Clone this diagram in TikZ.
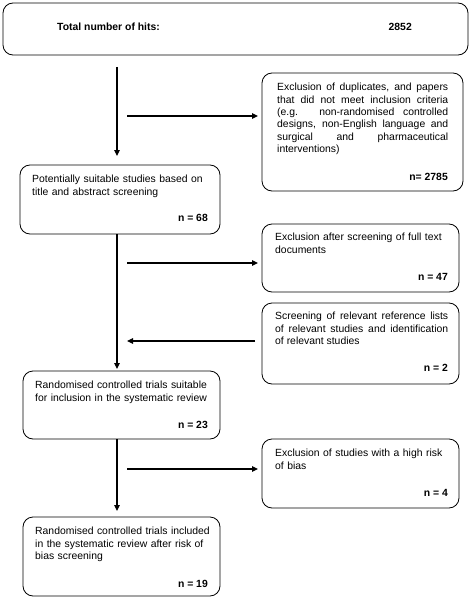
\documentclass[tikz,border=0pt]{standalone}
\usepackage{fontspec}
\setmainfont{Liberation Sans}
\usetikzlibrary{arrows.meta}
\begin{document}
\begin{tikzpicture}[x=1pt,y=-1pt,
  box/.style={draw, line width=0.8pt, rounded corners=10pt, inner sep=0pt, outer sep=0pt, anchor=north west},
  txt/.style={inner sep=0pt, anchor=north west, font=\fontsize{10.4}{12.4}\selectfont},
  num/.style={inner sep=0pt, anchor=east, font=\fontsize{10.4}{12.4}\selectfont\bfseries},
  arr/.style={line width=1.1pt, -{Triangle[length=6pt,width=5.5pt]}}]
\useasboundingbox (0,0) rectangle (472,599);
% boxes
\node[box, minimum width=465pt, minimum height=52pt] (top) at (3,3) {};
\node[box, minimum width=201pt, minimum height=118pt] (ex1) at (262,73) {};
\node[box, minimum width=200pt, minimum height=69pt] (pot) at (20,165) {};
\node[box, minimum width=197pt, minimum height=68pt] (ex2) at (262,224) {};
\node[box, minimum width=197pt, minimum height=81pt] (scr) at (262,303) {};
\node[box, minimum width=197pt, minimum height=68pt] (rct) at (23,371) {};
\node[box, minimum width=197pt, minimum height=69pt] (ex3) at (262,439) {};
\node[box, minimum width=197pt, minimum height=79pt] (fin) at (23,517) {};
% texts
\node[num, anchor=west] (topt) at (57,27) {Total number of hits:};
\node[num] (topn) at (412,27) {2852};
\node[txt, text width=171pt, align=justify] (ex1t) at (277,83) {Exclusion of duplicates, and papers\linebreak that did not meet inclusion criteria\linebreak (e.g. non-randomised controlled\linebreak designs, non-English language and\linebreak surgical and pharmaceutical\linebreak interventions)};
\node[num] (ex1n) at (448,177) {n= 2785};
\node[txt, text width=180pt, align=left] (pott) at (32,175) {Potentially suitable studies based on\\title and abstract screening};
\node[num] (potn) at (208,218) {n = 68};
\node[txt, text width=180pt, align=left] (ex2t) at (275,233) {Exclusion after screening of full text\\documents};
\node[num] (ex2n) at (448,277) {n = 47};
\node[txt, text width=173pt, align=justify] (scrt) at (275,312) {Screening of relevant reference lists\linebreak of relevant studies and identification\linebreak of relevant studies};
\node[num] (scrn) at (448,368) {n = 2};
\node[txt, text width=180pt, align=left] (rctt) at (35,381) {Randomised controlled trials suitable\\for inclusion in the systematic review};
\node[num] (rctn) at (208,425) {n = 23};
\node[txt, text width=180pt, align=left] (ex3t) at (275,449) {Exclusion of studies with a high risk\\of bias};
\node[num] (ex3n) at (448,493) {n = 4};
\node[txt, text width=180pt, align=left] (fint) at (35,527) {Randomised controlled trials included\\in the systematic review after risk of\\bias screening};
\node[num] (finn) at (208,584) {n = 19};
% connector end points
\coordinate (v1s) at (117,67);
\coordinate (v1e) at (117,156);
\coordinate (v2s) at (117,234);
\coordinate (v2e) at (117,369);
\coordinate (v3s) at (117,439);
\coordinate (v3e) at (117,511);
\coordinate (h1s) at (127,116);
\coordinate (h1e) at (258,116);
\coordinate (h2s) at (127,263);
\coordinate (h2e) at (258,263);
\coordinate (h3s) at (255,341);
\coordinate (h3e) at (127,341);
\coordinate (h4s) at (127,469);
\coordinate (h4e) at (258,469);
% connectors
\draw[arr] (v1s) -- (v1e);
\draw[arr] (v2s) -- (v2e);
\draw[arr] (v3s) -- (v3e);
\draw[arr] (h1s) -- (h1e);
\draw[arr] (h2s) -- (h2e);
\draw[arr] (h3s) -- (h3e);
\draw[arr] (h4s) -- (h4e);
\end{tikzpicture}
\end{document}
